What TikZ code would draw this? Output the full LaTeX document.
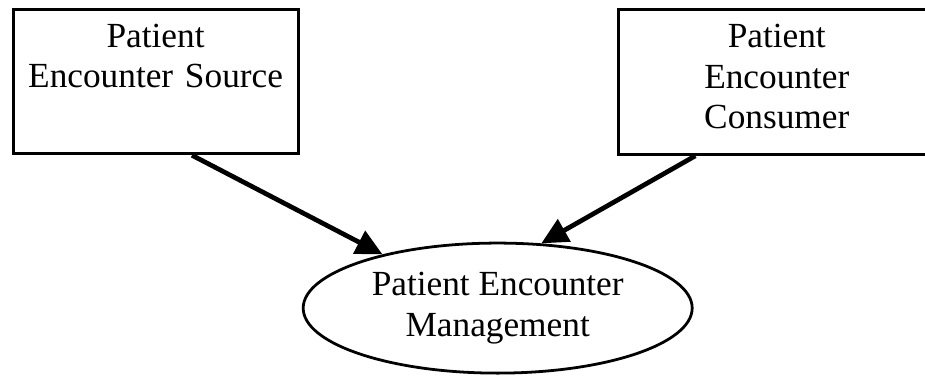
\documentclass[tikz,border=0pt]{standalone}
\usepackage{fontspec}
\setmainfont{Liberation Serif}
\usetikzlibrary{shapes.geometric,arrows.meta}
\begin{document}
\begin{tikzpicture}[
  box/.style={draw,line width=1.1pt,rectangle,align=center,inner xsep=4pt,inner ysep=5.3pt,
    text height=8.4pt,text depth=33pt,font=\fontsize{12.7}{14.5}\selectfont},
  oval/.style={draw,line width=1pt,ellipse,inner sep=0pt,align=center,
    font=\fontsize{12.7}{15}\selectfont},
  link/.style={line width=1.7pt,-{Triangle[length=9.5pt,width=9pt]}}
]
\useasboundingbox (0,0) rectangle (11.70,-4.77);

% Boxes
\node[box,text width=94.6pt] (source) at (1.968,-1.031) {Patient\\Encounter Source};
\node[box,text width=106.1pt] (consumer) at (9.825,-1.038) {Patient\\Encounter\\Consumer};

% Use case
\node[oval,minimum width=140pt,minimum height=46.8pt] (manage) at (6.295,-3.897) {Patient Encounter\\Management};

% Arrows
\draw[link] ([xshift=13.1pt]source.south) -- (manage.155);
\draw[link] ([xshift=-29.3pt]consumer.south) -- (manage.56);
\end{tikzpicture}
\end{document}
